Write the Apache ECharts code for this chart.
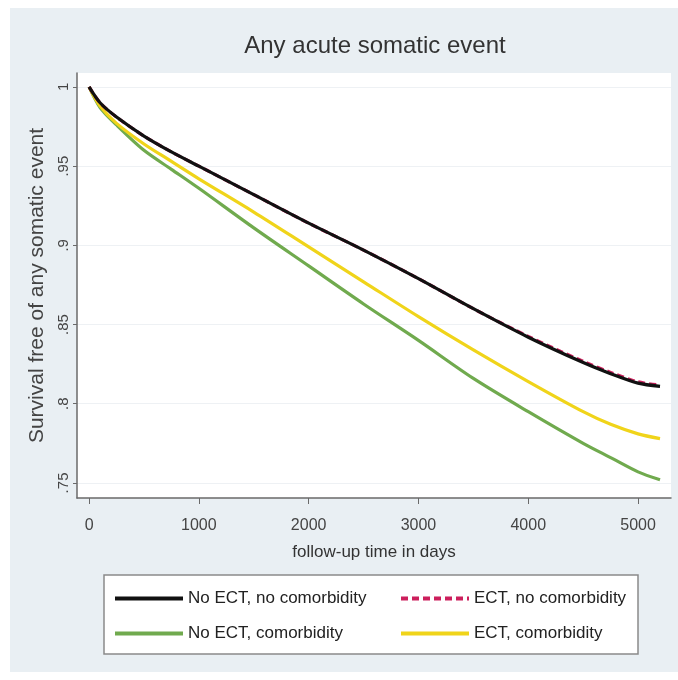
<!DOCTYPE html>
<html>
<head>
<meta charset="utf-8">
<script src="https://cdn.jsdelivr.net/npm/echarts@6/dist/echarts.min.js"></script>
<style>
  html, body { margin: 0; padding: 0; background: #ffffff; }
  #main { position: absolute; left: 10px; top: 8px; width: 668px; height: 664px; }
</style>
</head>
<body>
<div id="main"></div>
<script>
  // follow-up days
  var days = [0, 100, 250, 500, 750, 1000, 1500, 2000, 2500, 3000, 3500, 4000, 4500, 4750, 5000, 5200];

  // survival free of any somatic event
  var noEctNoComorb = [1, 0.990, 0.981, 0.969, 0.959, 0.950, 0.932, 0.914, 0.897, 0.879, 0.860, 0.842, 0.826, 0.819, 0.813, 0.811];
  var ectNoComorb   = [1, 0.990, 0.981, 0.969, 0.959, 0.950, 0.932, 0.914, 0.897, 0.879, 0.860, 0.8425, 0.8268, 0.8198, 0.8138, 0.8118];
  var noEctComorb   = [1, 0.987, 0.976, 0.960, 0.948, 0.936, 0.911, 0.887, 0.863, 0.840, 0.816, 0.795, 0.775, 0.766, 0.757, 0.752];
  var ectComorb     = [1, 0.988, 0.977, 0.964, 0.953, 0.942, 0.921, 0.899, 0.877, 0.855, 0.834, 0.814, 0.795, 0.787, 0.781, 0.778];

  var xTicks = [0, 1000, 2000, 3000, 4000, 5000];
  var yTicks = [0.75, 0.8, 0.85, 0.9, 0.95, 1];

  var names = ['No ECT, no comorbidity', 'ECT, no comorbidity', 'No ECT, comorbidity', 'ECT, comorbidity'];

  function pairs(arr) {
    var out = [];
    for (var i = 0; i < days.length; i++) out.push([days[i], arr[i]]);
    return out;
  }

  var font = '"Liberation Sans", Arial, sans-serif';

  var chart = echarts.init(document.getElementById('main'));

  function legendAt(name, left, top) {
    return {
      data: [name],
      left: left, top: top,
      itemWidth: 68, itemHeight: 14,
      itemStyle: { opacity: 0 },
      lineStyle: { width: 4 },
      textStyle: { fontFamily: font, fontSize: 17, color: '#222' },
      selectedMode: false
    };
  }

  var option = {
    backgroundColor: '#e9eff3',
    animation: false,
    title: {
      text: 'Any acute somatic event',
      left: 360, top: 21, textAlign: 'center',
      textStyle: { fontFamily: font, fontSize: 24, fontWeight: 'normal', color: '#333' }
    },
    grid: {
      left: 67, top: 65, right: 7, bottom: 174,
      show: true, backgroundColor: '#ffffff', borderWidth: 0
    },
    legend: [
      legendAt(names[0], 98, 577),
      legendAt(names[1], 384, 577),
      legendAt(names[2], 98, 612),
      legendAt(names[3], 384, 612)
    ],
    graphic: [{
      type: 'rect', z: -1,
      shape: { x: 94, y: 567, width: 534, height: 79 },
      style: { fill: '#ffffff', stroke: '#8a8a8a', lineWidth: 1.5 }
    }],
    xAxis: {
      type: 'value', min: -110, max: 5300,
      name: 'follow-up time in days', nameLocation: 'middle', nameGap: 46,
      nameTextStyle: { fontFamily: font, fontSize: 17, color: '#333' },
      axisLine: { show: true, onZero: false, lineStyle: { color: '#6a6a6a', width: 1.5 } },
      axisTick: { show: true, customValues: xTicks, length: 6, lineStyle: { color: '#6a6a6a' } },
      axisLabel: {
        customValues: xTicks, margin: 20, fontFamily: font, fontSize: 16, color: '#444',
        formatter: function (v) { return String(Math.round(v)); }
      },
      splitLine: { show: false }
    },
    yAxis: {
      type: 'value', min: 0.7405, max: 1.0088,
      name: 'Survival free of any somatic event', nameLocation: 'middle', nameGap: 28, nameRotate: 90,
      nameTextStyle: { fontFamily: font, fontSize: 21, color: '#444' },
      axisLine: { show: true, onZero: false, lineStyle: { color: '#6a6a6a', width: 1.5 } },
      axisTick: { show: true, customValues: yTicks, length: 4, lineStyle: { color: '#6a6a6a' } },
      axisLabel: {
        customValues: yTicks, rotate: 90, margin: 6,
        fontFamily: font, fontSize: 15, color: '#444',
        formatter: function (v) {
          if (Math.abs(v - 1) < 1e-9) return '1';
          return String(+v.toFixed(2)).replace(/^0/, '');
        }
      },
      splitLine: { show: true, lineStyle: { color: '#eef1f4', width: 1 } }
    },
    series: [
      {
        name: names[0], type: 'line', data: pairs(noEctNoComorb), z: 5,
        symbol: 'none', smooth: 0.3,
        itemStyle: { color: '#111111' },
        lineStyle: { color: '#111111', width: 3.2 }
      },
      {
        name: names[1], type: 'line', data: pairs(ectNoComorb), z: 4,
        symbol: 'none', smooth: 0.3,
        itemStyle: { color: '#cc1f5c' },
        lineStyle: { color: '#cc1f5c', width: 3.2, type: [7, 4] }
      },
      {
        name: names[2], type: 'line', data: pairs(noEctComorb), z: 3,
        symbol: 'none', smooth: 0.3,
        itemStyle: { color: '#70aa4e' },
        lineStyle: { color: '#70aa4e', width: 3.2 }
      },
      {
        name: names[3], type: 'line', data: pairs(ectComorb), z: 3,
        symbol: 'none', smooth: 0.3,
        itemStyle: { color: '#f0d41a' },
        lineStyle: { color: '#f0d41a', width: 3.2 }
      }
    ]
  };

  chart.setOption(option);
</script>
</body>
</html>
